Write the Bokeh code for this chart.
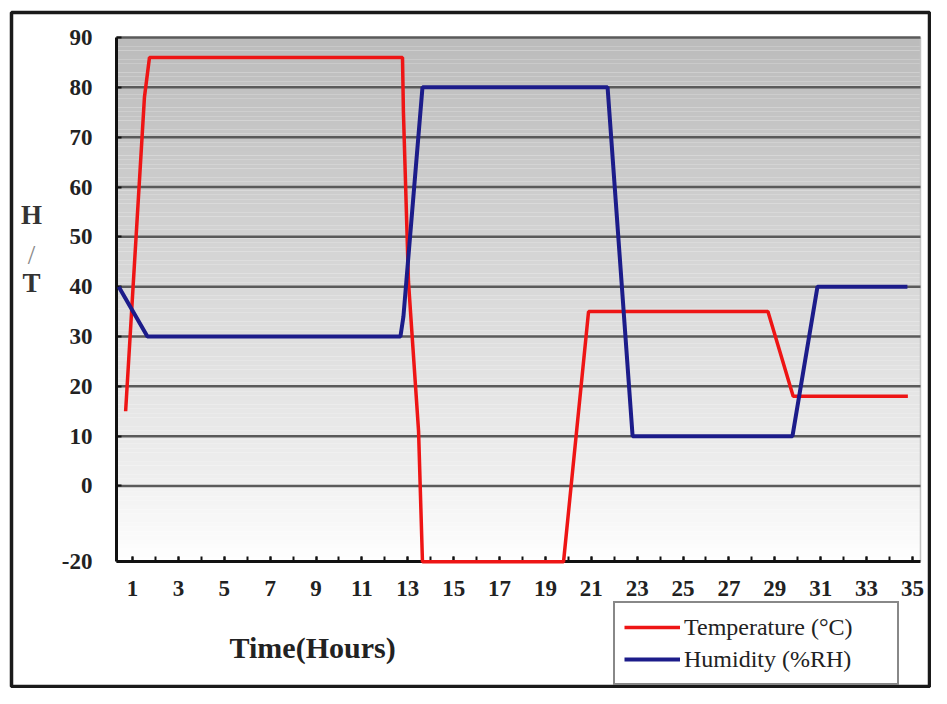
import numpy as np
from bokeh.plotting import figure
from bokeh.models import Range1d, FixedTicker, Legend, LegendItem, Label
from bokeh.embed import file_html
from bokeh.resources import INLINE

# ---- data ----
temp_hours = [0.7, 1.52, 1.74, 12.77, 12.81, 13.03, 13.47, 13.64, 19.79, 20.88, 28.7, 29.8, 34.8]
temp_values = [15, 78, 86, 86, 75, 41, 11, -20, -20, 35, 35, 18, 18]

hum_hours = [0.4, 1.65, 12.68, 12.81, 13.64, 21.71, 22.8, 29.77, 30.86, 34.78]
hum_values = [40, 30, 30, 34, 80, 80, 10, 10, 40, 40]

x_tick_labels = [1, 3, 5, 7, 9, 11, 13, 15, 17, 19, 21, 23, 25, 27, 29, 31, 33, 35]
x_minor_ticks = list(range(1, 36))
y_tick_values = [-20, 0, 10, 20, 30, 40, 50, 60, 70, 80, 90]
series_names = ["Temperature (\u00b0C)", "Humidity (%RH)"]
x_title = "Time(Hours)"
y_title = ["H", "/", "T"]

# the original axis squeezes the part below zero
NEG_SCALE = 0.76


def disp(vals):
    return [round(v * NEG_SCALE, 4) if v < 0 else v for v in vals]


# plotting region inside the chart box
X0, X1 = 0.3, 35.35
Y0, Y1 = disp([-20])[0], 90

p = figure(width=931, height=688, output_backend="svg", toolbar_location=None,
           x_range=Range1d(-4.275, 35.743), y_range=Range1d(-40.24, 95.02),
           min_border_left=11, min_border_right=2, min_border_top=12,
           min_border_bottom=2)
p.background_fill_color = "white"
p.border_fill_color = "white"
p.outline_line_color = "#1a1a1a"
p.outline_line_width = 3.5
p.xgrid.visible = False
p.ygrid.visible = False

# background gradient of the plotting region (decoration)
edges = np.linspace(Y0, Y1, 121)
mids = (edges[:-1] + edges[1:]) / 2
cols = []
for m in mids:
    if m >= 0:
        g = 240 - (m / 90.0) * 52
    else:
        g = 242 + (-m / -Y0) * 13
    g = int(max(0, min(255, g)))
    cols.append("#%02x%02x%02x" % (g, g, g))
p.quad(left=X0, right=X1, bottom=edges[:-1], top=edges[1:], fill_color=cols,
       line_color=None)
p.segment(x0=[X1], x1=[X1], y0=[Y0], y1=[Y1], line_color="#c4c4c4", line_width=1.5)

# horizontal grid lines at the y ticks
yt = disp(y_tick_values)
p.segment(x0=X0, x1=X1, y0=yt[1:], y1=yt[1:], line_color="#5a5a5a", line_width=2.5)

# lines
r_t = p.line(temp_hours, disp(temp_values), line_color="#ee1515", line_width=3.5)
r_h = p.line(hum_hours, disp(hum_values), line_color="#1c1c8a", line_width=4)
r_t.level = "overlay"
r_h.level = "overlay"

# axes
p.yaxis.ticker = FixedTicker(ticks=yt)
p.yaxis.major_label_overrides = {d: str(v) for d, v in zip(yt, y_tick_values)}
p.xaxis.ticker = FixedTicker(ticks=x_tick_labels, minor_ticks=x_minor_ticks)
p.yaxis.fixed_location = X0
p.xaxis.fixed_location = Y0
p.yaxis.bounds = (Y0, Y1)
p.xaxis.bounds = (X0, X1)
for ax in (p.xaxis[0], p.yaxis[0]):
    ax.axis_line_color = "#111111"
    ax.axis_line_width = 3
    ax.major_tick_in = 5
    ax.major_tick_out = 0
    ax.major_tick_line_color = "#111111"
    ax.major_tick_line_width = 2
    ax.major_label_text_font = "Liberation Serif"
    ax.major_label_text_font_style = "bold"
    ax.major_label_text_font_size = "23px"
    ax.major_label_text_color = "#222222"
p.yaxis.minor_tick_line_color = None
p.yaxis.major_label_standoff = 24
p.xaxis.minor_tick_in = 5
p.xaxis.minor_tick_out = 0
p.xaxis.minor_tick_line_color = "#111111"
p.xaxis.minor_tick_line_width = 2
p.xaxis.major_label_standoff = 19

# axis titles
lab_font = "Liberation Serif"
p.add_layout(Label(x=8.85, y=-32.4, text=x_title, text_align="center",
                   text_baseline="middle", text_font=lab_font, text_font_size="30px",
                   text_font_style="bold", text_color="#222222"))
for txt, yy in zip(y_title, (54.3, 46.3, 40.7)):
    p.add_layout(Label(x=-3.4, y=yy, text=txt, text_align="center", text_baseline="middle",
                       text_font=lab_font, text_font_size="27px",
                       text_font_style="normal" if txt == "/" else "bold",
                       text_color="#888888" if txt == "/" else "#333333"))

# legend
legend = Legend(items=[LegendItem(label=series_names[0], renderers=[r_t]),
                       LegendItem(label=series_names[1], renderers=[r_h])],
                location=(602, 1))
legend.border_line_color = "#111111"
legend.border_line_width = 2
legend.background_fill_color = "white"
legend.background_fill_alpha = 1
legend.label_text_font = "'Liberation Serif', 'Times New Roman', serif"
legend.label_text_font_size = "24px"
legend.label_text_color = "#222222"
legend.glyph_width = 56
legend.glyph_height = 30
legend.label_height = 30
legend.label_width = 204
legend.label_standoff = 4
legend.spacing = 2
legend.padding = 9
legend.margin = 0
p.add_layout(legend)

open("out.html", "w").write(file_html(p, INLINE))
